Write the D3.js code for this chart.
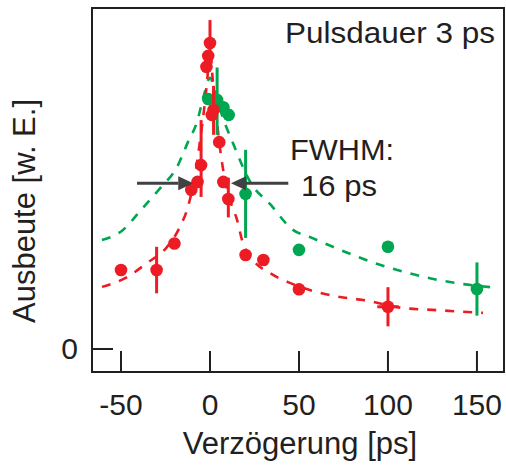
<!DOCTYPE html>
<html><head><meta charset="utf-8">
<script src="https://cdn.jsdelivr.net/npm/d3@7"></script>
<style>
html,body{margin:0;padding:0;background:#fff;}
svg text{font-family:"Liberation Sans",Arial,sans-serif;fill:#231f20;}
</style></head>
<body>
<svg id="chart" width="506" height="469"></svg>
<script>
// ---- data (delay in ps, yield in arbitrary units) ----
const redDelay = [-50, -30, -20, -10.5, -7, -5, -2, -1, 0, 1, 2, 5.2, 7.5, 10.3, 20, 30, 50, 100];
const redYield = [0.258, 0.258, 0.345, 0.52, 0.546, 0.601, 0.922, 0.958, 1.0, 0.765, 0.781, 0.676, 0.546, 0.49, 0.307, 0.291, 0.195, 0.138];
const redErrLo = [null, 0.182, null, null, null, 0.497, null, null, 0.925, null, 0.70, null, null, 0.43, null, null, null, 0.074];
const redErrHi = [null, 0.334, null, null, null, 0.748, null, null, 1.075, null, 0.86, null, null, 0.56, null, null, null, 0.202];
const redXErr  = [null, null, null, null, null, null, null, null, null, null, null, null, null, null, null, null, null, 6];

const greenDelay = [-1, 4, 7.5, 10.5, 20, 50, 100, 150];
const greenYield = [0.817, 0.814, 0.79, 0.765, 0.507, 0.324, 0.334, 0.196];
const greenErrLo = [null, 0.70, null, null, 0.363, null, null, 0.109];
const greenErrHi = [null, 0.92, null, null, 0.651, null, null, 0.283];

// fitted curves
const greenFitX = [-60.7, -48.9, -38.8, -27.5, -18.5, -12.4, -7.3, -3.4, 0, 3.4, 6.7, 12.9, 23, 33.7, 46, 57.3, 69, 82.6, 95.5, 108.4, 123.6, 138.8, 159.6];
const greenFitY = [0.356, 0.389, 0.454, 0.529, 0.595, 0.676, 0.742, 0.830, 0.886, 0.830, 0.765, 0.673, 0.542, 0.474, 0.392, 0.363, 0.334, 0.302, 0.275, 0.253, 0.231, 0.215, 0.201];
const redFitX = [-60.7, -46.6, -35.4, -24.2, -16.9, -12.4, -8.4, -5.6, -2.8, -1.1, 0, 1.1, 2.8, 5.1, 7.9, 11.2, 15.2, 18, 24.2, 33.7, 44.9, 60.1, 73, 86, 108.4, 127.5, 153.4];
const redFitY = [0.203, 0.235, 0.281, 0.333, 0.399, 0.464, 0.569, 0.680, 0.810, 0.912, 1.01, 0.912, 0.810, 0.680, 0.569, 0.487, 0.422, 0.356, 0.291, 0.248, 0.216, 0.186, 0.170, 0.160, 0.134, 0.127, 0.118];

const xTicks = [-50, 0, 50, 100, 150];
const yTicks = [0];
const xTitle = "Verzögerung [ps]";
const yTitle = "Ausbeute [w. E.]";
const titleText = "Pulsdauer 3 ps";
const fwhmText = ["FWHM:", "16 ps"];
// FWHM arrows: [start, tip] in ps at level fwhmLevel
const fwhmLevel = 0.5415;
const arrowLeft = [-41, -9.4];
const arrowRight = [44, 11.8];

// ---- drawing ----
const RED = "#ed1c24", GREEN = "#00a650", AX = "#231f20", ARROW = "#414042";
const svg = d3.select("#chart");
const L = 92, R = 504, T = 8, B = 372;
const x = d3.scaleLinear().domain([-66.3, 165.2]).range([L, R]);
const y = d3.scaleLinear().domain([-0.0752, 1.1144]).range([B, T]);

const line = d3.line().x(d => x(d[0])).y(d => y(d[1])).curve(d3.curveMonotoneX);
const gFit = greenFitX.map((v, i) => [v, greenFitY[i]]);
const rFit = redFitX.map((v, i) => [v, redFitY[i]]);

svg.append("path").attr("d", line(gFit)).attr("fill", "none")
  .attr("stroke", GREEN).attr("stroke-width", 2.6).attr("stroke-dasharray", "9,9");
svg.append("path").attr("d", line(rFit)).attr("fill", "none")
  .attr("stroke", RED).attr("stroke-width", 2.6).attr("stroke-dasharray", "9,9");

function drawSeries(dx, dy, lo, hi, xe, color) {
  const g = svg.append("g");
  const data = dx.map((v, i) => ({x: v, y: dy[i], lo: lo[i], hi: hi[i], xe: xe ? xe[i] : null}));
  g.selectAll("line.ey").data(data.filter(d => d.lo != null)).enter().append("line")
    .attr("x1", d => x(d.x)).attr("x2", d => x(d.x))
    .attr("y1", d => y(d.lo)).attr("y2", d => y(d.hi))
    .attr("stroke", color).attr("stroke-width", 3);
  g.selectAll("line.ex").data(data.filter(d => d.xe != null)).enter().append("line")
    .attr("x1", d => x(d.x - d.xe)).attr("x2", d => x(d.x + d.xe))
    .attr("y1", d => y(d.y)).attr("y2", d => y(d.y))
    .attr("stroke", color).attr("stroke-width", 3);
  g.selectAll("circle").data(data).enter().append("circle")
    .attr("cx", d => x(d.x)).attr("cy", d => y(d.y)).attr("r", 6.3).attr("fill", color);
}
drawSeries(greenDelay, greenYield, greenErrLo, greenErrHi, null, GREEN);
drawSeries(redDelay, redYield, redErrLo, redErrHi, redXErr, RED);

// FWHM arrows
function arrow(a) {
  const yy = y(fwhmLevel), x0 = x(a[0]), x1 = x(a[1]);
  const dir = Math.sign(x1 - x0), head = 15, hw = 7;
  svg.append("line").attr("x1", x0).attr("x2", x1 - dir * head).attr("y1", yy).attr("y2", yy)
    .attr("stroke", ARROW).attr("stroke-width", 3);
  svg.append("path").attr("d", `M${x1},${yy}L${x1 - dir * head},${yy - hw}L${x1 - dir * head},${yy + hw}Z`)
    .attr("fill", ARROW);
}
arrow(arrowLeft);
arrow(arrowRight);

// frame
svg.append("rect").attr("x", L).attr("y", T).attr("width", R - L).attr("height", B - T)
  .attr("fill", "none").attr("stroke", AX).attr("stroke-width", 2);

// x ticks (inside)
svg.selectAll("line.xt").data(xTicks).enter().append("line")
  .attr("x1", d => x(d)).attr("x2", d => x(d)).attr("y1", B).attr("y2", B - 21)
  .attr("stroke", AX).attr("stroke-width", 2);
svg.selectAll("text.xt").data(xTicks).enter().append("text")
  .attr("x", d => x(d)).attr("y", 415).attr("text-anchor", "middle")
  .attr("font-size", 30).text(d => d);
// y ticks
svg.selectAll("line.yt").data(yTicks).enter().append("line")
  .attr("x1", L).attr("x2", L + 21).attr("y1", d => y(d)).attr("y2", d => y(d))
  .attr("stroke", AX).attr("stroke-width", 2);
svg.selectAll("text.yt").data(yTicks).enter().append("text")
  .attr("x", 78).attr("y", d => y(d) + 10).attr("text-anchor", "end")
  .attr("font-size", 30).text(d => d);

// axis titles
svg.append("text").attr("x", 300).attr("y", 454).attr("text-anchor", "middle")
  .attr("font-size", 31).text(xTitle);
svg.append("text").attr("transform", "translate(35,211) rotate(-90)").attr("text-anchor", "middle")
  .attr("font-size", 31).text(yTitle);

// annotations
svg.append("text").attr("x", 285).attr("y", 43)
  .attr("font-size", 30).attr("textLength", 210).attr("lengthAdjust", "spacingAndGlyphs").text(titleText);
svg.append("text").attr("x", 290).attr("y", 160).attr("font-size", 30)
  .attr("textLength", 104).attr("lengthAdjust", "spacingAndGlyphs").text(fwhmText[0]);
svg.append("text").attr("x", 301).attr("y", 196).attr("font-size", 30)
  .attr("textLength", 76).attr("lengthAdjust", "spacingAndGlyphs").text(fwhmText[1]);
</script>
</body></html>
